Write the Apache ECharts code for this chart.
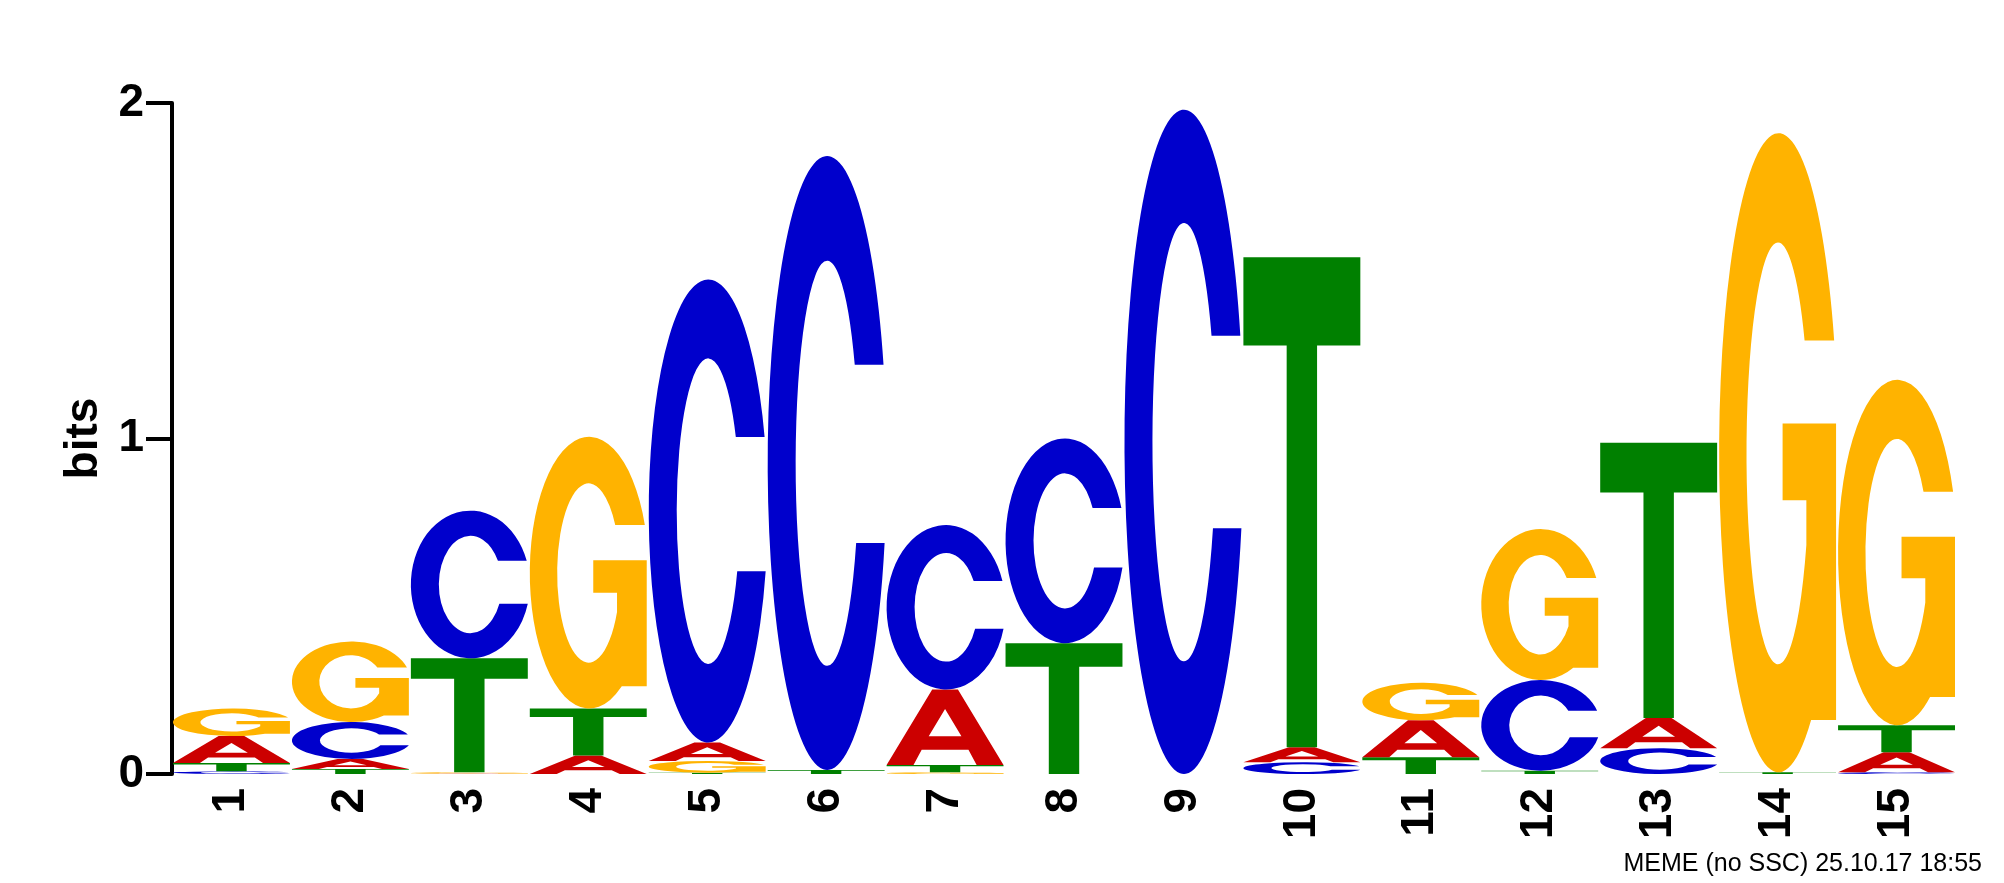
<!DOCTYPE html>
<html>
<head>
<meta charset="utf-8">
<script src="https://cdn.jsdelivr.net/npm/echarts@6/dist/echarts.min.js"></script>
<style>
html,body{margin:0;padding:0;background:#fff;}
#chart{width:2004px;height:883px;}
</style>
</head>
<body>
<div id="chart"></div>
<script>
// Sequence logo data (information content in bits per letter)
const positions = ['1','2','3','4','5','6','7','8','9','10','11','12','13','14','15'];
const bitsA = [0.080, 0.030, 0.001, 0.055, 0.055, 0.000, 0.225, 0.000, 0.000, 0.045, 0.110, 0.000, 0.090, 0.000, 0.060];
const bitsC = [0.008, 0.110, 0.440, 0.000, 1.380, 1.830, 0.490, 0.610, 1.980, 0.035, 0.000, 0.270, 0.077, 0.000, 0.005];
const bitsG = [0.082, 0.240, 0.004, 0.810, 0.035, 0.000, 0.005, 0.000, 0.000, 0.000, 0.112, 0.450, 0.000, 1.905, 1.030];
const bitsT = [0.025, 0.015, 0.340, 0.140, 0.004, 0.012, 0.022, 0.390, 0.000, 1.460, 0.050, 0.010, 0.820, 0.005, 0.080];
const yTicks = [0, 1, 2];
const footer = 'MEME (no SSC) 25.10.17 18:55';

const letters = ['A','C','G','T'];
const letterColors = {A:'#CC0000', C:'#0000CC', G:'#FFB300', T:'#008000'};
const glyphs = {
  A: 'M0,100 L39,0 L61,0 L100,100 L77,100 L70,80 L30,80 L23,100 Z M36,62 L64,62 L50,26 Z',
  C: 'M97.4,34 A50,50 0 1,0 98.3,63 L74.4,63 A26.5,33 0 1,1 73.2,34 Z',
  G: 'M97.4,32 A50,50 0 1,0 78,91.4 L99,91.4 L99,45 L54,45 L54,57 L74,57 L74,64 A26.5,33 0 1,1 72.5,32 Z',
  T: 'M0,0 L100,0 L100,18 L63,18 L63,100 L37,100 L37,18 L0,18 Z'
};

// Build stacked table: [posIndex, base, top, letterIndex], ascending heights
const table = [];
positions.forEach(function(p, i){
  const items = [
    {l:0, v:bitsA[i]}, {l:1, v:bitsC[i]}, {l:2, v:bitsG[i]}, {l:3, v:bitsT[i]}
  ].filter(function(d){return d.v > 0;}).sort(function(a,b){return a.v-b.v;});
  let base = 0;
  items.forEach(function(d){
    table.push([i, base, base + d.v, d.l]);
    base += d.v;
  });
});

const chart = echarts.init(document.getElementById('chart'), null, {renderer:'canvas'});
const labelFont = '"Liberation Sans", Arial, Helvetica, sans-serif';

chart.setOption({
  backgroundColor: '#ffffff',
  animation: false,
  grid: {left: 172, right: 48, top: 103, bottom: 109, containLabel: false},
  xAxis: {
    type: 'category',
    data: positions,
    axisLine: {show: false},
    axisTick: {show: false},
    axisLabel: {
      rotate: 90, margin: 14, color: '#000', fontSize: 46, fontWeight: 'bold',
      fontFamily: labelFont, interval: 0
    },
    splitLine: {show: false}
  },
  yAxis: {
    type: 'value',
    min: 0, max: 2, interval: 1,
    name: 'bits',
    nameLocation: 'middle',
    nameRotate: 90,
    nameGap: 58,
    nameTextStyle: {color: '#000', fontSize: 46, fontWeight: 'bold', fontFamily: labelFont},
    axisLine: {show: true, lineStyle: {color: '#000', width: 4}},
    axisTick: {show: true, length: 26, lineStyle: {color: '#000', width: 4}},
    axisLabel: {
      margin: 28, color: '#000', fontSize: 46, fontWeight: 'bold', fontFamily: labelFont,
      formatter: function(v){ return yTicks.indexOf(v) >= 0 ? String(v) : ''; }
    },
    splitLine: {show: false}
  },
  graphic: [{
    type: 'text',
    right: 22,
    top: 852,
    style: {text: footer, fill: '#000', font: '25px ' + labelFont}
  }],
  series: [{
    type: 'custom',
    data: table,
    encode: {x: 0, y: [1, 2]},
    renderItem: function(params, api){
      const xi = api.value(0);
      const y0 = api.value(1);
      const y1 = api.value(2);
      const L = letters[api.value(3)];
      const pb = api.coord([xi, y0]);
      const pt = api.coord([xi, y1]);
      const bw = api.size([1, 0])[0];
      const h = pb[1] - pt[1];
      if (h <= 0) return null;
      return {
        type: 'path',
        shape: {
          pathData: glyphs[L],
          x: pb[0] - bw / 2 + 1,
          y: pt[1],
          width: bw - 2,
          height: h,
          layout: 'cover'
        },
        style: {fill: letterColors[L], stroke: null}
      };
    }
  }]
});
</script>
</body>
</html>
